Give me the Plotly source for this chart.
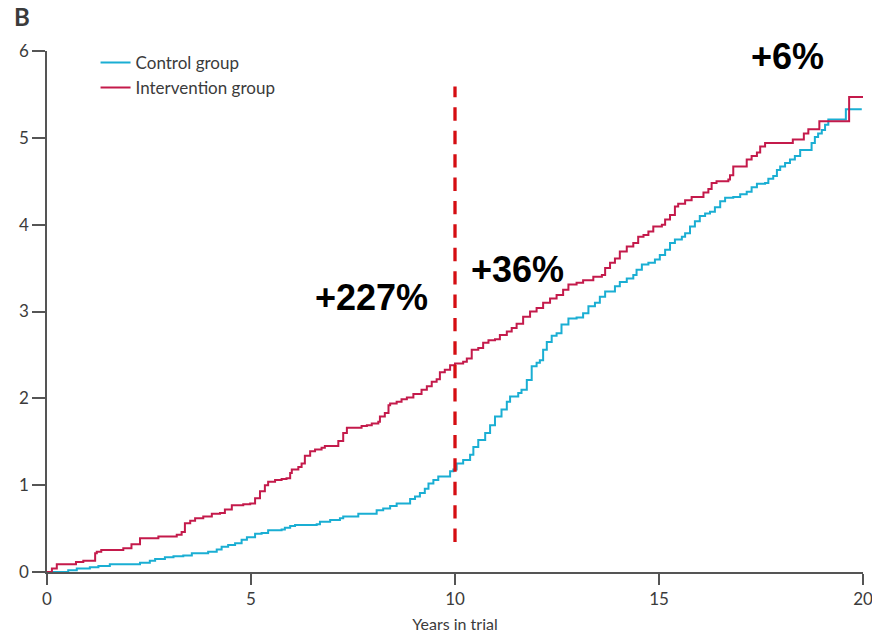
import plotly.graph_objects as go

# Control group cumulative curve (years in trial, value)
ctl_x = [0, 0.52, 0.73, 1.05, 1.26, 1.54, 2.28, 2.52, 2.65, 2.89,
         3.1, 3.34, 3.55, 3.95, 4.16, 4.28, 4.44, 4.61, 4.77, 4.9,
         5.1, 5.26, 5.42, 5.75, 5.83, 5.96, 6.08, 6.61, 6.69, 6.94,
         7.18, 7.26, 7.63, 8.08, 8.24, 8.41, 8.57, 8.9, 9.02, 9.14,
         9.26, 9.35, 9.47, 9.59, 9.88, 9.96, 10.04, 10.2, 10.37, 10.45,
         10.57, 10.74, 10.86, 10.98, 11.14, 11.27, 11.35, 11.55, 11.63, 11.76,
         11.88, 12.0, 12.08, 12.16, 12.25, 12.37, 12.49, 12.61, 12.78, 12.98,
         13.14, 13.27, 13.43, 13.55, 13.68, 13.92, 14.04, 14.21, 14.37, 14.45,
         14.58, 14.74, 14.9, 15.02, 15.15, 15.27, 15.39, 15.56, 15.64, 15.76,
         15.88, 16.0, 16.13, 16.25, 16.37, 16.5, 16.62, 16.82, 16.99, 17.15,
         17.27, 17.4, 17.6, 17.68, 17.8, 17.89, 17.97, 18.09, 18.21, 18.33,
         18.46, 18.74, 18.82, 18.9, 18.99, 19.07, 19.15, 19.58, 19.97]
ctl_y = [0, 0.02, 0.04, 0.054, 0.07, 0.09, 0.107, 0.13, 0.15, 0.17,
         0.18, 0.19, 0.215, 0.234, 0.26, 0.29, 0.31, 0.33, 0.37, 0.40,
         0.44, 0.45, 0.48, 0.49, 0.51, 0.53, 0.54, 0.55, 0.58, 0.60,
         0.62, 0.64, 0.67, 0.71, 0.73, 0.76, 0.79, 0.84, 0.87, 0.91,
         0.96, 1.02, 1.06, 1.10, 1.16, 1.18, 1.25, 1.29, 1.35, 1.44,
         1.52, 1.60, 1.69, 1.79, 1.87, 1.96, 2.02, 2.06, 2.10, 2.21,
         2.37, 2.41, 2.44, 2.56, 2.65, 2.72, 2.75, 2.85, 2.92, 2.93,
         2.98, 3.06, 3.10, 3.17, 3.23, 3.29, 3.34, 3.38, 3.42, 3.48,
         3.54, 3.56, 3.60, 3.65, 3.71, 3.79, 3.83, 3.86, 3.90, 3.98,
         4.04, 4.10, 4.13, 4.15, 4.20, 4.27, 4.31, 4.32, 4.35, 4.38,
         4.43, 4.47, 4.48, 4.53, 4.56, 4.63, 4.67, 4.71, 4.75, 4.79,
         4.86, 4.94, 5.01, 5.05, 5.09, 5.15, 5.21, 5.33, 5.33]

# Intervention group cumulative curve
int_x = [0, 0.12, 0.24, 0.71, 0.89, 1.18, 1.22, 1.33, 1.87, 2.07,
         2.28, 2.73, 3.18, 3.30, 3.38, 3.51, 3.63, 3.83, 4.04, 4.24,
         4.36, 4.53, 4.81, 4.98, 5.10, 5.22, 5.34, 5.42, 5.59, 5.75,
         5.87, 5.96, 6.00, 6.16, 6.24, 6.32, 6.45, 6.57, 6.73, 6.81,
         7.14, 7.26, 7.35, 7.71, 7.84, 7.96, 8.12, 8.16, 8.28, 8.37,
         8.41, 8.57, 8.69, 8.82, 8.98, 9.18, 9.31, 9.43, 9.55, 9.63,
         9.75, 9.88, 10.0, 10.2, 10.29, 10.41, 10.57, 10.69, 10.82, 10.98,
         11.1, 11.27, 11.39, 11.51, 11.67, 11.84, 12.0, 12.16, 12.33, 12.49,
         12.65, 12.78, 12.98, 13.14, 13.39, 13.6, 13.68, 13.8, 13.92, 14.04,
         14.21, 14.37, 14.49, 14.62, 14.74, 14.86, 15.07, 15.15, 15.27, 15.39,
         15.47, 15.64, 15.8, 16.09, 16.21, 16.29, 16.41, 16.7, 16.74, 16.82,
         17.15, 17.27, 17.4, 17.48, 17.6, 18.28, 18.55, 18.66, 18.93, 19.66,
         20.0]
int_y = [0, 0.04, 0.09, 0.115, 0.13, 0.215, 0.234, 0.253, 0.273, 0.32,
         0.39, 0.41, 0.43, 0.46, 0.56, 0.59, 0.62, 0.64, 0.67, 0.68,
         0.72, 0.77, 0.78, 0.79, 0.85, 0.93, 1.0, 1.04, 1.06, 1.07,
         1.08, 1.14, 1.18, 1.21, 1.25, 1.34, 1.39, 1.41, 1.43, 1.45,
         1.51, 1.60, 1.66, 1.68, 1.69, 1.71, 1.73, 1.79, 1.83, 1.92,
         1.94, 1.96, 1.99, 2.01, 2.05, 2.10, 2.14, 2.19, 2.22, 2.30,
         2.33, 2.38, 2.40, 2.42, 2.46, 2.56, 2.58, 2.64, 2.67, 2.68,
         2.73, 2.77, 2.81, 2.86, 2.94, 3.0, 3.04, 3.10, 3.15, 3.19,
         3.25, 3.31, 3.33, 3.36, 3.40, 3.42, 3.50, 3.56, 3.61, 3.69,
         3.75, 3.79, 3.86, 3.88, 3.92, 3.98, 4.0, 4.06, 4.11, 4.21,
         4.24, 4.28, 4.32, 4.37, 4.41, 4.48, 4.50, 4.52, 4.57, 4.67,
         4.75, 4.79, 4.83, 4.90, 4.94, 4.98, 5.05, 5.10, 5.19, 5.47,
         5.47]

x_ticks = [0, 5, 10, 15, 20]
y_ticks = [0, 1, 2, 3, 4, 5, 6]

# reference line (drawn bottom to top) and change labels
ref_x = 10
ref_y = [0.346, 5.59]
label_text = ["+227%", "+36%", "+6%"]
label_x = [7.95, 11.52, 18.15]
label_y = [3.16, 3.48, 5.94]

BLUE = "#1aaed3"
RED = "#c41a4b"
GRAY = "#3b3b3b"
FONT = "Lato, 'Open Sans', sans-serif"

fig = go.Figure()
fig.add_trace(go.Scatter(x=ctl_x, y=ctl_y, mode="lines", name="Control group",
                         line=dict(color=BLUE, width=2, shape="hv")))
fig.add_trace(go.Scatter(x=int_x, y=int_y, mode="lines", name="Intervention group",
                         line=dict(color=RED, width=2, shape="hv")))

fig.add_shape(type="line", xref="x", yref="y", x0=ref_x, x1=ref_x, y0=ref_y[0], y1=ref_y[1],
              line=dict(color="#d50d12", width=3.3, dash="13.4px,10px"))

for t, xx, yy in zip(label_text, label_x, label_y):
    fig.add_annotation(x=xx, y=yy, xref="x", yref="y", text="<b>" + t + "</b>", showarrow=False,
                       font=dict(family="Liberation Sans, Arial, sans-serif", size=36, color="black"),
                       xanchor="center", yanchor="middle")

fig.add_annotation(x=-0.043, y=1.067, xref="paper", yref="paper", text="<b>B</b>", showarrow=False,
                   xanchor="left", yanchor="middle",
                   font=dict(family=FONT, size=24, color=GRAY))

fig.update_layout(
    width=872, height=637,
    margin=dict(l=47, r=9, t=51, b=65),
    paper_bgcolor="white", plot_bgcolor="white",
    font=dict(family=FONT, size=16, color=GRAY),
    legend=dict(x=0.0595, y=1.0116, xanchor="left", yanchor="top", bgcolor="rgba(0,0,0,0)",
                font=dict(size=17, color=GRAY), itemwidth=30, tracegroupgap=0),
    showlegend=True,
)

fig.update_xaxes(range=[0, 20], tickvals=x_ticks, showline=True, linecolor="#555", linewidth=1.5,
                 ticks="outside", ticklen=11, tickcolor="#555", tickwidth=1.5, showgrid=False,
                 zeroline=False, tickfont=dict(size=17, color=GRAY), automargin=False,
                 ticklabeloverflow="allow",
                 title=dict(text="Years in trial", font=dict(size=16, color=GRAY), standoff=11))
fig.update_yaxes(range=[0, 6], tickvals=y_ticks, showline=True, linecolor="#555", linewidth=1.5,
                 ticks="outside", ticklen=13, tickcolor="#555", tickwidth=1.5, showgrid=False,
                 zeroline=False, tickfont=dict(size=17, color=GRAY), automargin=False,
                 ticklabeloverflow="allow")

fig.write_html("out.html", config={"displayModeBar": False},
               post_script="document.body.style.margin='0px';")
